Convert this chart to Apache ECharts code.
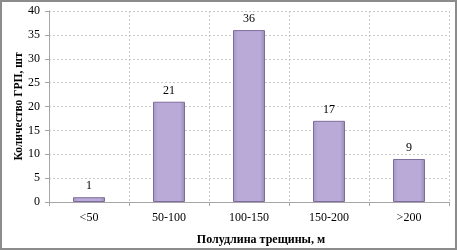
<!DOCTYPE html>
<html>
<head>
<meta charset="utf-8">
<script src="https://cdn.jsdelivr.net/npm/echarts@6/dist/echarts.min.js"></script>
<style>
  html, body { margin: 0; padding: 0; background: #fff; }
  #chart { width: 457px; height: 250px; box-sizing: border-box; border: 2px solid #8c8c8c; }
</style>
</head>
<body>
<div id="chart"></div>
<script>
// данные
var categories = ["<50", "50-100", "100-150", "150-200", ">200"];
var counts = [1, 21, 36, 17, 9];
var yTicks = [0, 5, 10, 15, 20, 25, 30, 35, 40];

var font = "'Liberation Serif', 'Times New Roman', serif";
var chart = echarts.init(document.getElementById("chart"));

chart.setOption({
  animation: false,
  textStyle: { fontFamily: font },
  grid: { left: 47, right: 6, top: 9, bottom: 46, outerBoundsMode: "none", containLabel: false },
  xAxis: {
    type: "category",
    data: categories,
    name: "Полудлина трещины, м",
    nameLocation: "middle",
    nameGap: 32,
    nameMoveOverlap: false,
    nameTextStyle: { fontFamily: font, fontSize: 12, fontWeight: "bold", color: "#000", padding: [0, 0, 0, 24] },
    axisLine: { lineStyle: { color: "#a6a6a6" } },
    axisTick: { show: true, length: 4, lineStyle: { color: "#a6a6a6" } },
    axisLabel: { fontFamily: font, fontSize: 12, color: "#000", margin: 10 },
    splitLine: { show: true, lineStyle: { color: "#c8c8c8", type: [2, 2] } }
  },
  yAxis: {
    type: "value",
    min: yTicks[0],
    max: yTicks[yTicks.length - 1],
    interval: 5,
    name: "Количество ГРП, шт",
    nameLocation: "middle",
    nameGap: 24,
    nameMoveOverlap: false,
    nameTextStyle: { fontFamily: font, fontSize: 11.5, fontWeight: "bold", color: "#000" },
    axisLine: { show: true, lineStyle: { color: "#a6a6a6" } },
    axisTick: { show: true, length: 4, lineStyle: { color: "#a6a6a6" } },
    axisLabel: { fontFamily: font, fontSize: 12, color: "#000", margin: 9 },
    splitLine: { show: true, lineStyle: { color: "#c8c8c8", type: [2, 2] } }
  },
  series: [{
    type: "bar",
    data: counts,
    barWidth: "40%",
    itemStyle: {
      color: new echarts.graphic.LinearGradient(0, 0, 1, 0, [
        { offset: 0, color: "#a797c6" },
        { offset: 0.15, color: "#b9aad7" },
        { offset: 0.85, color: "#b9aad7" },
        { offset: 1, color: "#9a8ab8" }
      ]),
      borderColor: "#7d6d9c",
      borderWidth: 1
    },
    label: {
      show: true,
      position: "top",
      distance: 5,
      fontFamily: font,
      fontSize: 12,
      color: "#000"
    }
  }]
});
</script>
</body>
</html>
